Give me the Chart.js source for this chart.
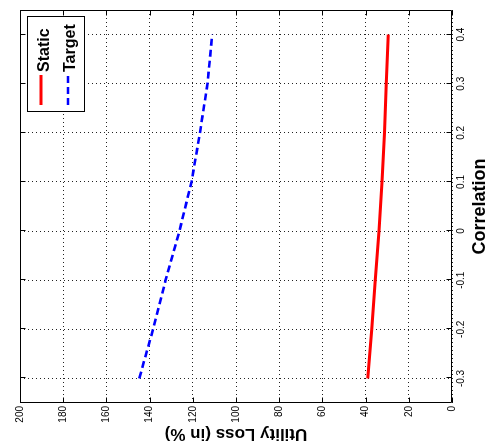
<!DOCTYPE html>
<html>
<head>
<meta charset="utf-8">
<script src="https://cdn.jsdelivr.net/npm/chart.js@4/dist/chart.umd.min.js"></script>
<style>
  html, body { margin: 0; padding: 0; background: #fff; overflow: hidden; }
  /* the whole figure is turned a quarter turn, like the scanned original */
  #wrap { position: absolute; left: 0; top: 0; width: 445px; height: 486px;
          transform-origin: 0 0; transform: translate(0, 445px) rotate(-90deg); }
</style>
</head>
<body>
<div id="wrap"><canvas id="chart" width="445" height="486"></canvas></div>
<script>
const correlation = [-0.3, -0.2, -0.1, 0, 0.1, 0.2, 0.3, 0.4];
const staticLoss = [39.0, 37.2, 35.5, 33.8, 32.4, 31.3, 30.4, 29.5];
const targetLoss = [144.8, 138.4, 132.6, 126.2, 120.6, 116.7, 113.2, 111.0];
const xTicks = [-0.3, -0.2, -0.1, 0, 0.1, 0.2, 0.3, 0.4];
const yTicks = [0, 20, 40, 60, 80, 100, 120, 140, 160, 180, 200];
const seriesNames = ['Static', 'Target'];

const FONT = '"Liberation Sans", Arial, Helvetica, sans-serif';

const toPoints = (ys) => correlation.map((c, i) => ({ x: c, y: ys[i] }));
const crisp = (v) => Math.round(v) + 0.5;

// box around the axes with inward ticks on all four sides, plus the legend
const framePlugin = {
  id: 'frame',
  afterDraw(chart) {
    const { ctx, chartArea: a, scales: { x, y } } = chart;
    const L = crisp(a.left), R = crisp(a.right - 1), T = crisp(a.top), B = crisp(a.bottom - 1);
    ctx.save();
    ctx.strokeStyle = '#000';
    ctx.lineWidth = 1;
    ctx.setLineDash([]);
    ctx.beginPath();
    ctx.rect(L, T, R - L, B - T);
    xTicks.forEach((v) => {
      const px = crisp(x.getPixelForValue(v));
      ctx.moveTo(px, B); ctx.lineTo(px, B - 5);
      ctx.moveTo(px, T); ctx.lineTo(px, T + 5);
    });
    yTicks.forEach((v) => {
      const py = crisp(y.getPixelForValue(v));
      ctx.moveTo(L, py); ctx.lineTo(L + 5, py);
      ctx.moveTo(R, py); ctx.lineTo(R - 5, py);
    });
    ctx.stroke();

    // legend box
    const bx = 333.5, by = 27.5, bw = 95, bh = 57;
    ctx.fillStyle = '#fff';
    ctx.fillRect(bx, by, bw, bh);
    ctx.strokeRect(bx, by, bw, bh);
    const lineRows = [41, 68];
    const textRows = [45, 71];
    chart.data.datasets.forEach((ds, i) => {
      ctx.strokeStyle = ds.borderColor;
      ctx.lineWidth = ds.borderWidth;
      ctx.setLineDash(ds.borderDash || []);
      ctx.beginPath();
      ctx.moveTo(340, lineRows[i]);
      ctx.lineTo(370, lineRows[i]);
      ctx.stroke();
      ctx.setLineDash([]);
      ctx.fillStyle = '#000';
      ctx.font = 'bold 16px ' + FONT;
      ctx.textBaseline = 'middle';
      ctx.fillText(ds.label, 373, textRows[i]);
    });
    ctx.restore();
  }
};

new Chart(document.getElementById('chart'), {
  type: 'line',
  data: {
    datasets: [
      {
        label: seriesNames[0],
        data: toPoints(staticLoss),
        borderColor: '#ff0000',
        borderWidth: 3,
        pointRadius: 0,
        tension: 0,
        fill: false
      },
      {
        label: seriesNames[1],
        data: toPoints(targetLoss),
        borderColor: '#0000ff',
        borderWidth: 2.6,
        borderDash: [7, 4],
        pointRadius: 0,
        tension: 0,
        fill: false
      }
    ]
  },
  options: {
    responsive: false,
    animation: false,
    layout: { padding: { top: 20, right: 10, left: 0, bottom: 0 } },
    plugins: { legend: { display: false }, tooltip: { enabled: false } },
    scales: {
      x: {
        type: 'linear',
        min: -0.35,
        max: 0.45,
        afterBuildTicks: (scale) => { scale.ticks = xTicks.map((value) => ({ value })); },
        afterFit: (scale) => { scale.height = 34; },
        grid: { color: '#222', lineWidth: 1, drawTicks: false },
        border: { display: false, dash: [1, 3] },
        ticks: {
          autoSkip: false, maxRotation: 0, padding: 3, color: '#000',
          font: { family: FONT, size: 10 }
        ,
          callback: (v) => String(+Number(v).toFixed(1))
        },
        title: {
          display: true, text: 'Correlation', color: '#000',
          font: { family: FONT, size: 18, weight: 'bold' },
          padding: { top: 0, bottom: -5 }
        }
      },
      y: {
        min: 0,
        max: 200,
        afterBuildTicks: (scale) => { scale.ticks = yTicks.map((value) => ({ value })); },
        afterFit: (scale) => { scale.width = 42; },
        grid: { color: '#222', lineWidth: 1, drawTicks: false },
        border: { display: false, dash: [1, 3] },
        ticks: {
          autoSkip: false, padding: 3, color: '#000',
          font: { family: FONT, size: 10 }
        },
        title: {
          display: true, text: 'Utility Loss (in %)', color: '#000',
          font: { family: FONT, size: 17, weight: 'bold' },
          padding: { top: 1, bottom: 0 }
        }
      }
    }
  },
  plugins: [framePlugin]
});
</script>
</body>
</html>
